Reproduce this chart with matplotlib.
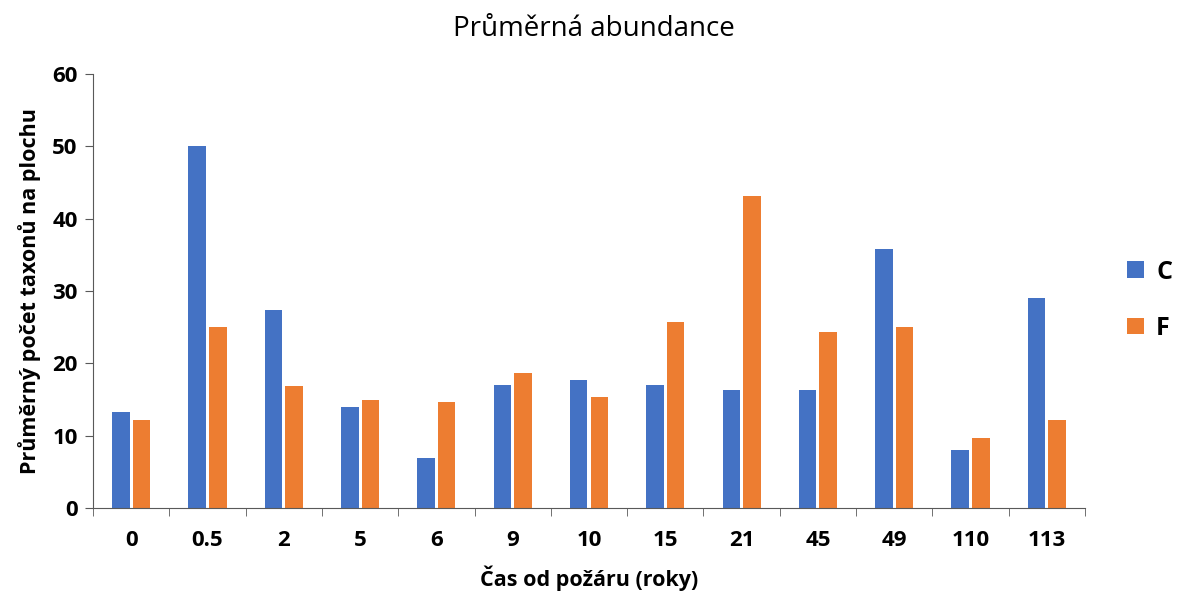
import numpy as np
import matplotlib
matplotlib.use("Agg")
import matplotlib.pyplot as plt

plt.rcParams['font.family'] = ['Open Sans', 'DejaVu Sans']

# roky od požáru a průměrné počty taxonů
casy = ["0", "0.5", "2", "5", "6", "9", "10", "15", "21", "45", "49", "110", "113"]
hodnoty_c = [13.3, 50.0, 27.4, 14.0, 6.9, 17.0, 17.7, 17.0, 16.3, 16.3, 35.8, 8.0, 29.0]
hodnoty_f = [12.2, 25.0, 16.9, 14.9, 14.7, 18.7, 15.3, 25.7, 43.1, 24.3, 25.0, 9.7, 12.2]

barva_c = "#4472C4"
barva_f = "#ED7D31"
seda = "#595959"

fig = plt.figure(figsize=(11.88, 5.97), dpi=100)
ax = fig.add_axes([0.0783, 0.149, 0.835, 0.727])

x = np.arange(len(casy))
sirka = 0.23
ax.bar(x - 0.135, hodnoty_c, width=sirka, color=barva_c, label="C")
ax.bar(x + 0.135, hodnoty_f, width=sirka, color=barva_f, label="F")

ax.set_xlim(-0.5, len(casy) - 0.5)
ax.set_ylim(0, 60)
ax.set_yticks(range(0, 61, 10))
ax.set_xticks(x)
ax.set_xticklabels(casy)
ax.set_xticks(np.arange(-0.5, len(casy)), minor=True)

ax.tick_params(axis="x", which="major", length=0, pad=16, labelsize=16)
ax.tick_params(axis="x", which="minor", length=6, color=seda, direction="out")
ax.tick_params(axis="y", length=6, color=seda, labelsize=16, pad=5)
for lab in ax.get_xticklabels() + ax.get_yticklabels():
    lab.set_fontweight("bold")

for s in ["top", "right"]:
    ax.spines[s].set_visible(False)
ax.spines["left"].set_color(seda)
ax.spines["bottom"].set_color(seda)

ax.set_xlabel("Čas od požáru (roky)", fontsize=15.5, fontweight="bold", labelpad=10)
ax.set_ylabel("Průměrný počet taxonů na plochu", fontsize=15.5, fontweight="bold", labelpad=8)
fig.suptitle("Průměrná abundance", fontsize=20, y=0.975)

leg = ax.legend(loc="center left", bbox_to_anchor=(1.02, 0.479), frameon=False,
                prop={"size": 18, "weight": "bold"}, handlelength=0.65, handleheight=0.65,
                labelspacing=1.25, handletextpad=0.5)

fig.savefig("out.png", dpi=100)
